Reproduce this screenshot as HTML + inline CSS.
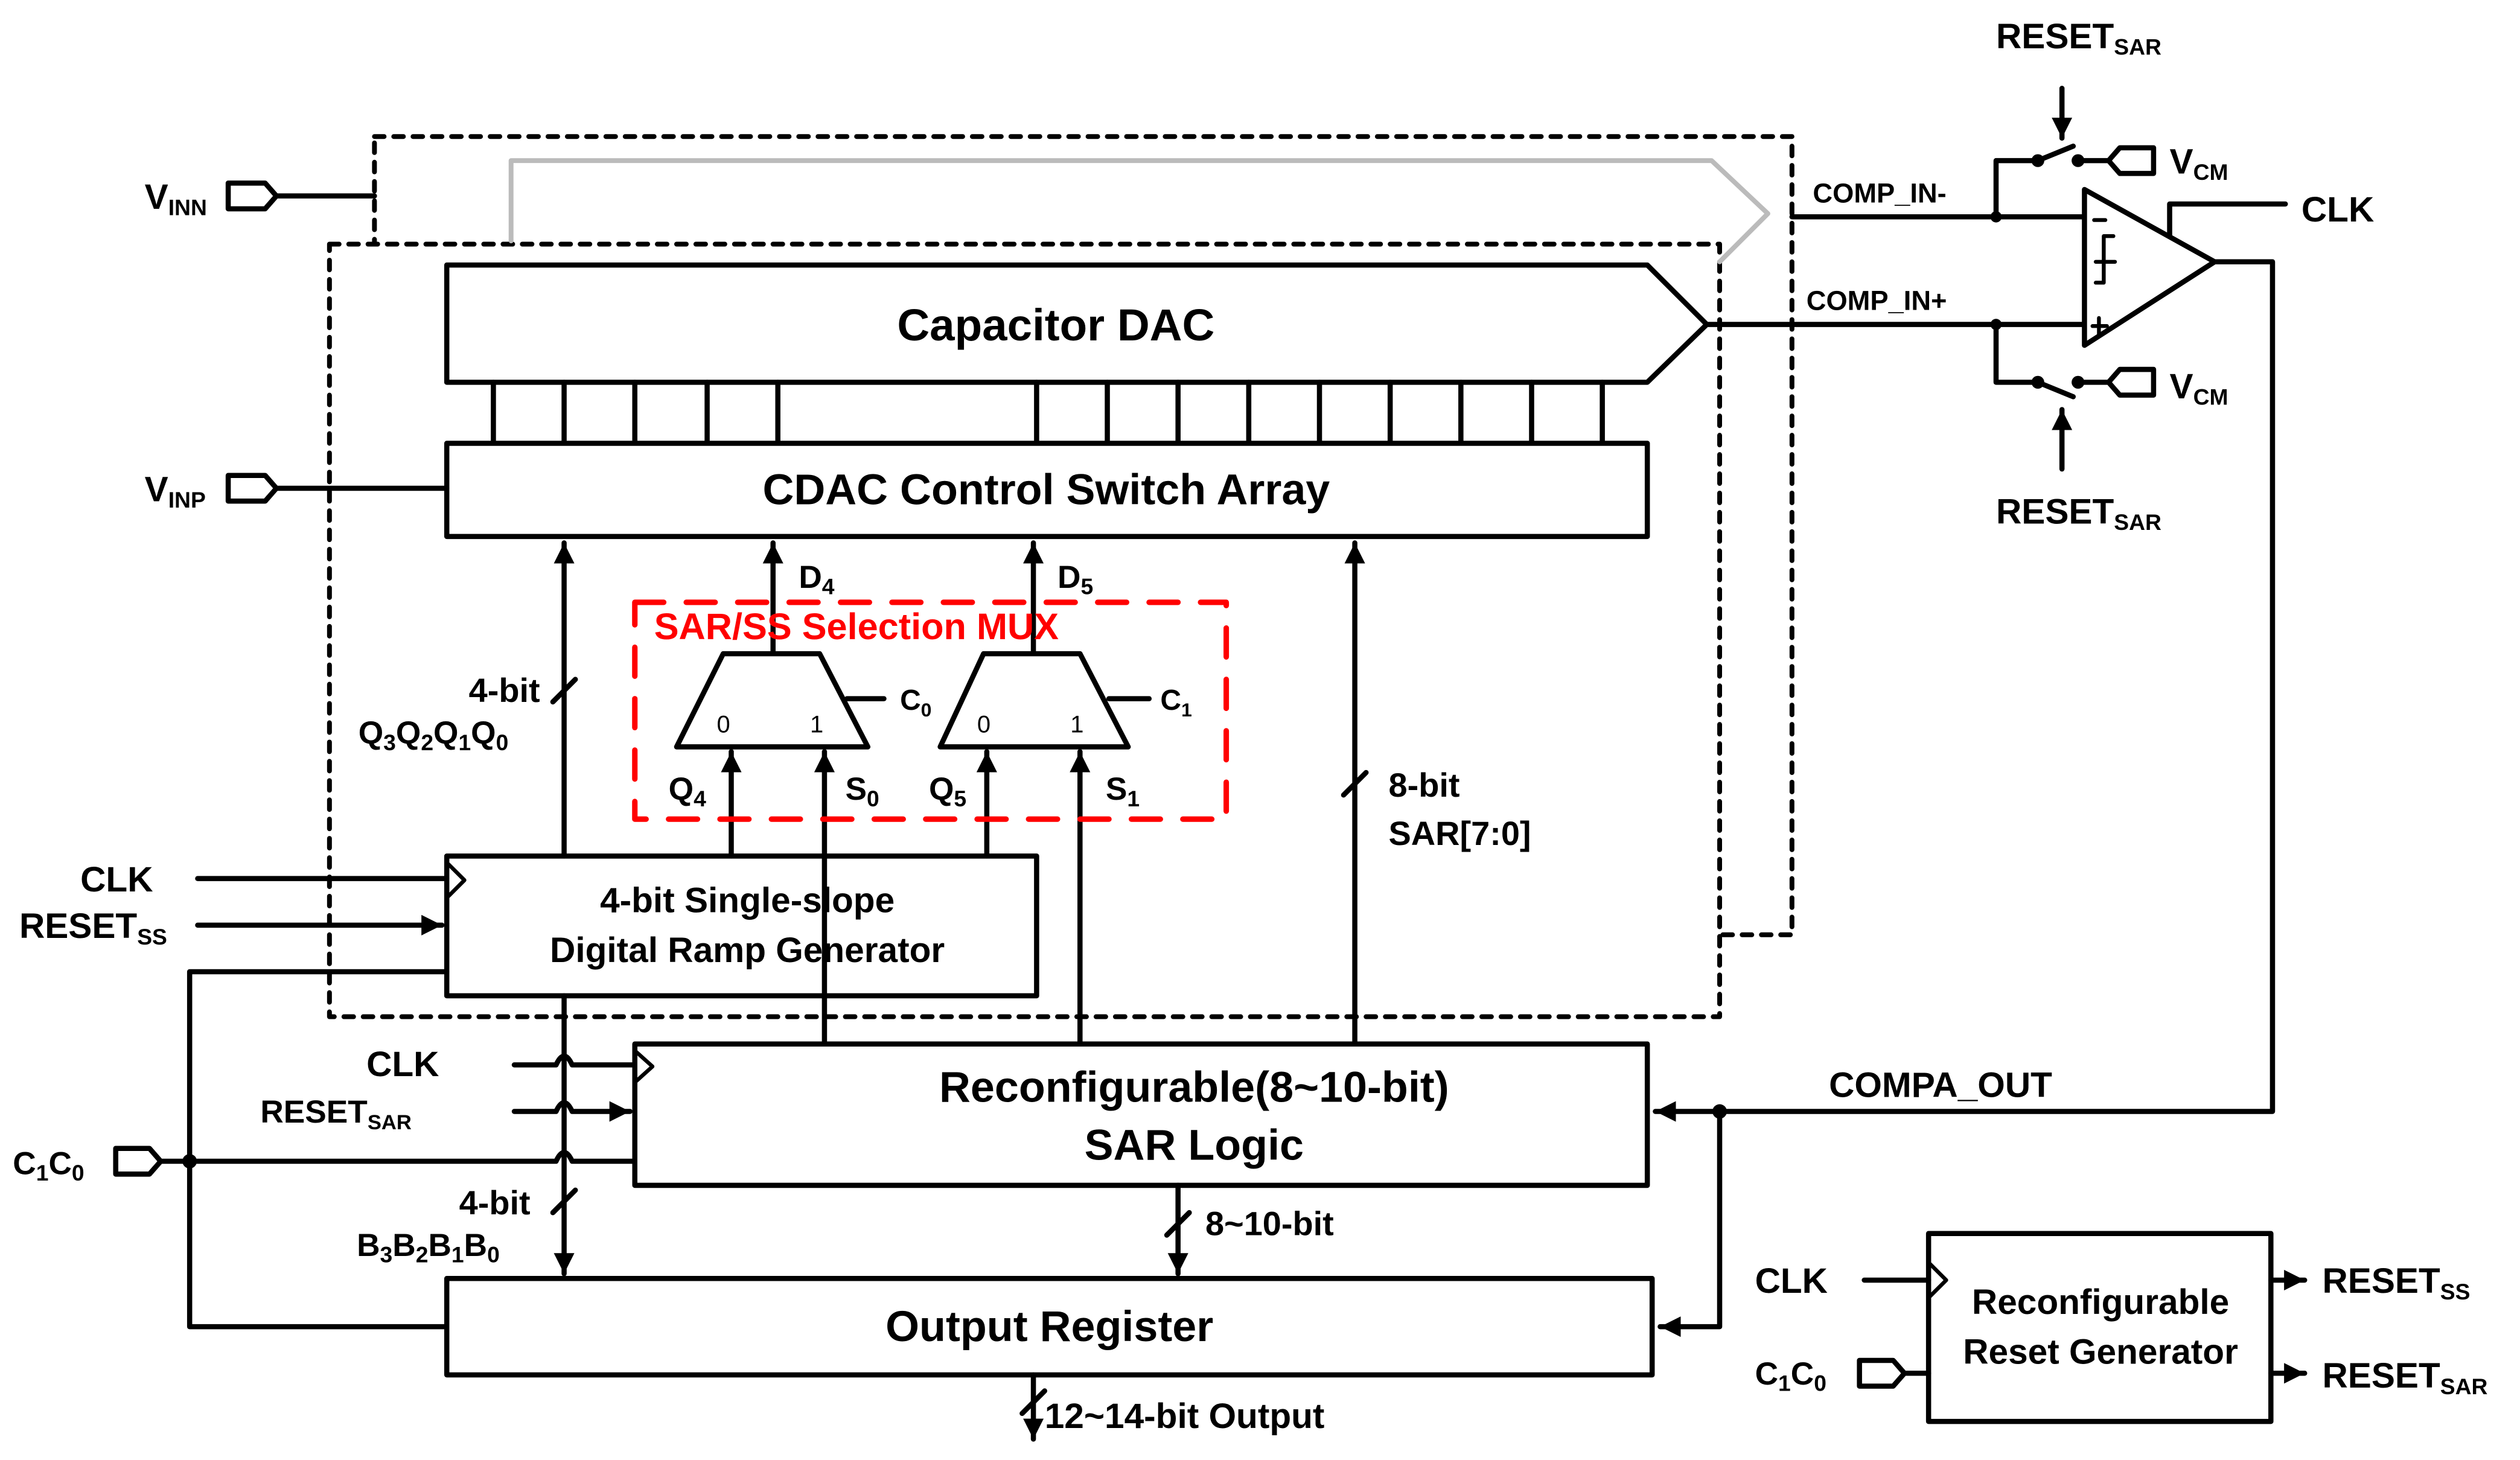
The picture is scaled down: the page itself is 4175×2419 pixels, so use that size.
<!DOCTYPE html>
<html><head><meta charset="utf-8"><style>
html,body{margin:0;padding:0;background:#fff;}
svg{display:block;}
text{font-family:"Liberation Sans",Arial,sans-serif;font-weight:bold;fill:#000;}
</style></head><body>
<svg width="4175" height="2419" viewBox="0 0 1568 909" preserveAspectRatio="none" xmlns="http://www.w3.org/2000/svg">
<defs>
<marker id="a" viewBox="0 0 10 10" refX="10" refY="5" markerWidth="4" markerHeight="4" orient="auto" markerUnits="strokeWidth"><path d="M0,0 L10,5 L0,10 Z" fill="#000"/></marker>
</defs>
<g fill="none" stroke="#000" stroke-width="3.2" stroke-linejoin="round" stroke-linecap="round">
<!-- dashed boxes -->
<rect x="233" y="85" width="882" height="497" stroke-dasharray="6,6" stroke-width="3"/>
<rect x="205" y="152" width="865" height="481" stroke-dasharray="6,6" stroke-width="3" fill="#fff"/>
<polyline points="318,150 318,100 1065,100 1100,133 1070,163" stroke="#bbb" stroke-width="3"/>
<!-- Capacitor DAC -->
<path d="M278,165 L1025,165 L1062,202 L1025,238 L278,238 Z" fill="#fff"/>
<path d="M307,238V276M351,238V276M395,238V276M440,238V276M484,238V276M645,238V276M689,238V276M733,238V276M777,238V276M821,238V276M865,238V276M909,238V276M953,238V276M997,238V276"/>
<rect x="278" y="276" width="747" height="58" fill="#fff"/>
<!-- VINN / VINP -->
<path d="M142,114 L165,114 L172,122 L165,130 L142,130 Z"/>
<line x1="172" y1="122" x2="233" y2="122"/>
<path d="M142,296 L165,296 L172,304 L165,312 L142,312 Z"/>
<line x1="172" y1="304" x2="278" y2="304"/>
<!-- comp inputs -->
<line x1="1115" y1="135" x2="1297" y2="135"/>
<line x1="1062" y1="202" x2="1297" y2="202"/>
<path d="M1297,118 L1378,163 L1297,215 Z" fill="#fff"/>
<path d="M1303,137h7M1302,203h9M1306,198v10" stroke-width="2.4"/>
<path d="M1315,147h-6v29h-5M1304,163h12" stroke-width="2.4"/>
<polyline points="1350,147 1350,127 1422,127"/>
<polyline points="1378,163 1414,163 1414,692 1030,692" marker-end="url(#a)"/>
<polyline points="1070,692 1070,826 1033,826" marker-end="url(#a)"/>
<!-- switches -->
<polyline points="1242,135 1242,100 1268,100"/>
<line x1="1268" y1="100" x2="1290" y2="91"/>
<line x1="1293" y1="100" x2="1312" y2="100"/>
<path d="M1312,100 L1319,92 L1340,92 L1340,108 L1319,108 Z"/>
<line x1="1283" y1="55" x2="1283" y2="86" marker-end="url(#a)"/>
<polyline points="1242,202 1242,238 1268,238"/>
<line x1="1268" y1="238" x2="1290" y2="247"/>
<line x1="1293" y1="238" x2="1312" y2="238"/>
<path d="M1312,238 L1319,230 L1340,230 L1340,246 L1319,246 Z"/>
<line x1="1283" y1="292" x2="1283" y2="255" marker-end="url(#a)"/>
<!-- Ramp gen -->
<rect x="278" y="533" width="367" height="87" fill="#fff"/>
<polyline points="279,538 289,548 279,558" stroke-width="2.4"/>
<line x1="123" y1="547" x2="278" y2="547"/>
<line x1="123" y1="576" x2="275" y2="576" marker-end="url(#a)"/>
<polyline points="278,605 118,605 118,826 278,826"/>
<!-- vertical arrows -->
<line x1="351" y1="533" x2="351" y2="338" marker-end="url(#a)"/>
<line x1="344" y1="437" x2="358" y2="423"/>
<line x1="481" y1="407" x2="481" y2="338" marker-end="url(#a)"/>
<line x1="643" y1="407" x2="643" y2="338" marker-end="url(#a)"/>
<!-- muxes -->
<path d="M450,407 L510,407 L540,465 L421,465 Z" fill="#fff"/>
<line x1="527" y1="435" x2="550" y2="435"/>
<path d="M612,407 L672,407 L702,465 L585,465 Z" fill="#fff"/>
<line x1="690" y1="435" x2="715" y2="435"/>
<line x1="455" y1="533" x2="455" y2="468" marker-end="url(#a)"/>
<line x1="513" y1="650" x2="513" y2="468" marker-end="url(#a)"/>
<line x1="614" y1="533" x2="614" y2="468" marker-end="url(#a)"/>
<line x1="672" y1="650" x2="672" y2="468" marker-end="url(#a)"/>
<rect x="395" y="375" width="368" height="135" stroke="#f00" stroke-dasharray="18,14" stroke-width="3.4"/>
<line x1="843" y1="650" x2="843" y2="338" marker-end="url(#a)"/>
<line x1="836" y1="495" x2="850" y2="481"/>
<!-- SAR logic -->
<rect x="395" y="650" width="630" height="88" fill="#fff"/>
<polyline points="396,655 406,664 396,673" stroke-width="2.4"/>
<path d="M320,663 H346 Q351,652 356,663 H395"/>
<path d="M320,692 H346 Q351,681 356,692 H392" marker-end="url(#a)"/>
<path d="M100,723 H346 Q351,712 356,723 H395"/>
<line x1="351" y1="620" x2="351" y2="793" marker-end="url(#a)"/>
<line x1="344" y1="755" x2="358" y2="741"/>
<line x1="733" y1="738" x2="733" y2="793" marker-end="url(#a)"/>
<line x1="726" y1="769" x2="740" y2="755"/>
<rect x="278" y="796" width="750" height="60" fill="#fff"/>
<line x1="643" y1="856" x2="643" y2="896" marker-end="url(#a)"/>
<line x1="636" y1="880" x2="650" y2="866"/>
<path d="M72,715 L93,715 L100,723 L93,731 L72,731 Z"/>
<!-- reset gen -->
<rect x="1200" y="768" width="213" height="117" fill="#fff"/>
<polyline points="1201,787 1211,797 1201,807" stroke-width="2.4"/>
<line x1="1160" y1="797" x2="1200" y2="797"/>
<path d="M1157,847 L1178,847 L1185,855 L1178,863 L1157,863 Z"/>
<line x1="1185" y1="855" x2="1200" y2="855"/>
<line x1="1413" y1="797" x2="1434" y2="797" marker-end="url(#a)"/>
<line x1="1413" y1="855" x2="1434" y2="855" marker-end="url(#a)"/>
</g>
<g fill="#000">
<circle cx="1242" cy="135" r="3.5"/><circle cx="1242" cy="202" r="3.5"/>
<circle cx="1268" cy="100" r="4"/><circle cx="1293" cy="100" r="4"/>
<circle cx="1268" cy="238" r="4"/><circle cx="1293" cy="238" r="4"/>
<circle cx="1070" cy="692" r="4.5"/><circle cx="118" cy="723" r="4.5"/>
</g>
<!-- text -->
<text x="657" y="212" font-size="28" text-anchor="middle">Capacitor DAC</text>
<text x="651" y="314" font-size="27" text-anchor="middle">CDAC Control Switch Array</text>
<text x="465" y="568" font-size="22" text-anchor="middle">4-bit Single-slope</text>
<text x="465" y="599" font-size="22" text-anchor="middle">Digital Ramp Generator</text>
<text x="743" y="686" font-size="27" text-anchor="middle">Reconfigurable(8~10-bit)</text>
<text x="743" y="722" font-size="27" text-anchor="middle">SAR Logic</text>
<text x="653" y="835" font-size="27" text-anchor="middle">Output Register</text>
<text x="1307" y="818" font-size="22" text-anchor="middle">Reconfigurable</text>
<text x="1307" y="849" font-size="22" text-anchor="middle">Reset Generator</text>
<text x="90" y="130" font-size="22">V<tspan font-size="14" dy="4">INN</tspan></text>
<text x="90" y="312" font-size="22">V<tspan font-size="14" dy="4">INP</tspan></text>
<text x="1128" y="126" font-size="17">COMP_IN-</text>
<text x="1124" y="193" font-size="17">COMP_IN+</text>
<text x="1432" y="138" font-size="22">CLK</text>
<text x="1350" y="108" font-size="22">V<tspan font-size="14" dy="4">CM</tspan></text>
<text x="1350" y="248" font-size="22">V<tspan font-size="14" dy="4">CM</tspan></text>
<text x="1242" y="30" font-size="22">RESET<tspan font-size="14" dy="4">SAR</tspan></text>
<text x="1242" y="326" font-size="22">RESET<tspan font-size="14" dy="4">SAR</tspan></text>
<text x="1138" y="683" font-size="22">COMPA_OUT</text>
<text x="497" y="366" font-size="20">D<tspan font-size="14" dy="4">4</tspan></text>
<text x="658" y="366" font-size="20">D<tspan font-size="14" dy="4">5</tspan></text>
<text x="407" y="398" font-size="23" style="fill:#f00">SAR/SS Selection MUX</text>
<text x="446" y="456" font-size="15" style="font-weight:normal">0</text>
<text x="504" y="456" font-size="15" style="font-weight:normal">1</text>
<text x="608" y="456" font-size="15" style="font-weight:normal">0</text>
<text x="666" y="456" font-size="15" style="font-weight:normal">1</text>
<text x="560" y="442" font-size="18">C<tspan font-size="12" dy="4">0</tspan></text>
<text x="722" y="442" font-size="18">C<tspan font-size="12" dy="4">1</tspan></text>
<text x="416" y="498" font-size="20">Q<tspan font-size="14" dy="4">4</tspan></text>
<text x="526" y="498" font-size="20">S<tspan font-size="14" dy="4">0</tspan></text>
<text x="578" y="498" font-size="20">Q<tspan font-size="14" dy="4">5</tspan></text>
<text x="688" y="498" font-size="20">S<tspan font-size="14" dy="4">1</tspan></text>
<text x="336" y="437" font-size="21" text-anchor="end">4-bit</text>
<text x="223" y="463" font-size="20">Q<tspan font-size="14" dy="4">3</tspan><tspan dy="-4">Q</tspan><tspan font-size="14" dy="4">2</tspan><tspan dy="-4">Q</tspan><tspan font-size="14" dy="4">1</tspan><tspan dy="-4">Q</tspan><tspan font-size="14" dy="4">0</tspan></text>
<text x="864" y="496" font-size="21">8-bit</text>
<text x="864" y="526" font-size="21">SAR[7:0]</text>
<text x="50" y="555" font-size="22">CLK</text>
<text x="12" y="584" font-size="22">RESET<tspan font-size="14" dy="4">SS</tspan></text>
<text x="228" y="670" font-size="22">CLK</text>
<text x="162" y="699" font-size="20">RESET<tspan font-size="13" dy="4">SAR</tspan></text>
<text x="8" y="731" font-size="20">C<tspan font-size="14" dy="4">1</tspan><tspan dy="-4">C</tspan><tspan font-size="14" dy="4">0</tspan></text>
<text x="330" y="756" font-size="21" text-anchor="end">4-bit</text>
<text x="222" y="782" font-size="20">B<tspan font-size="14" dy="4">3</tspan><tspan dy="-4">B</tspan><tspan font-size="14" dy="4">2</tspan><tspan dy="-4">B</tspan><tspan font-size="14" dy="4">1</tspan><tspan dy="-4">B</tspan><tspan font-size="14" dy="4">0</tspan></text>
<text x="750" y="769" font-size="21">8~10-bit</text>
<text x="650" y="889" font-size="22">12~14-bit Output</text>
<text x="1092" y="805" font-size="22">CLK</text>
<text x="1092" y="862" font-size="20">C<tspan font-size="14" dy="4">1</tspan><tspan dy="-4">C</tspan><tspan font-size="14" dy="4">0</tspan></text>
<text x="1445" y="805" font-size="22">RESET<tspan font-size="14" dy="4">SS</tspan></text>
<text x="1445" y="864" font-size="22">RESET<tspan font-size="14" dy="4">SAR</tspan></text>
</svg>
</body></html>
